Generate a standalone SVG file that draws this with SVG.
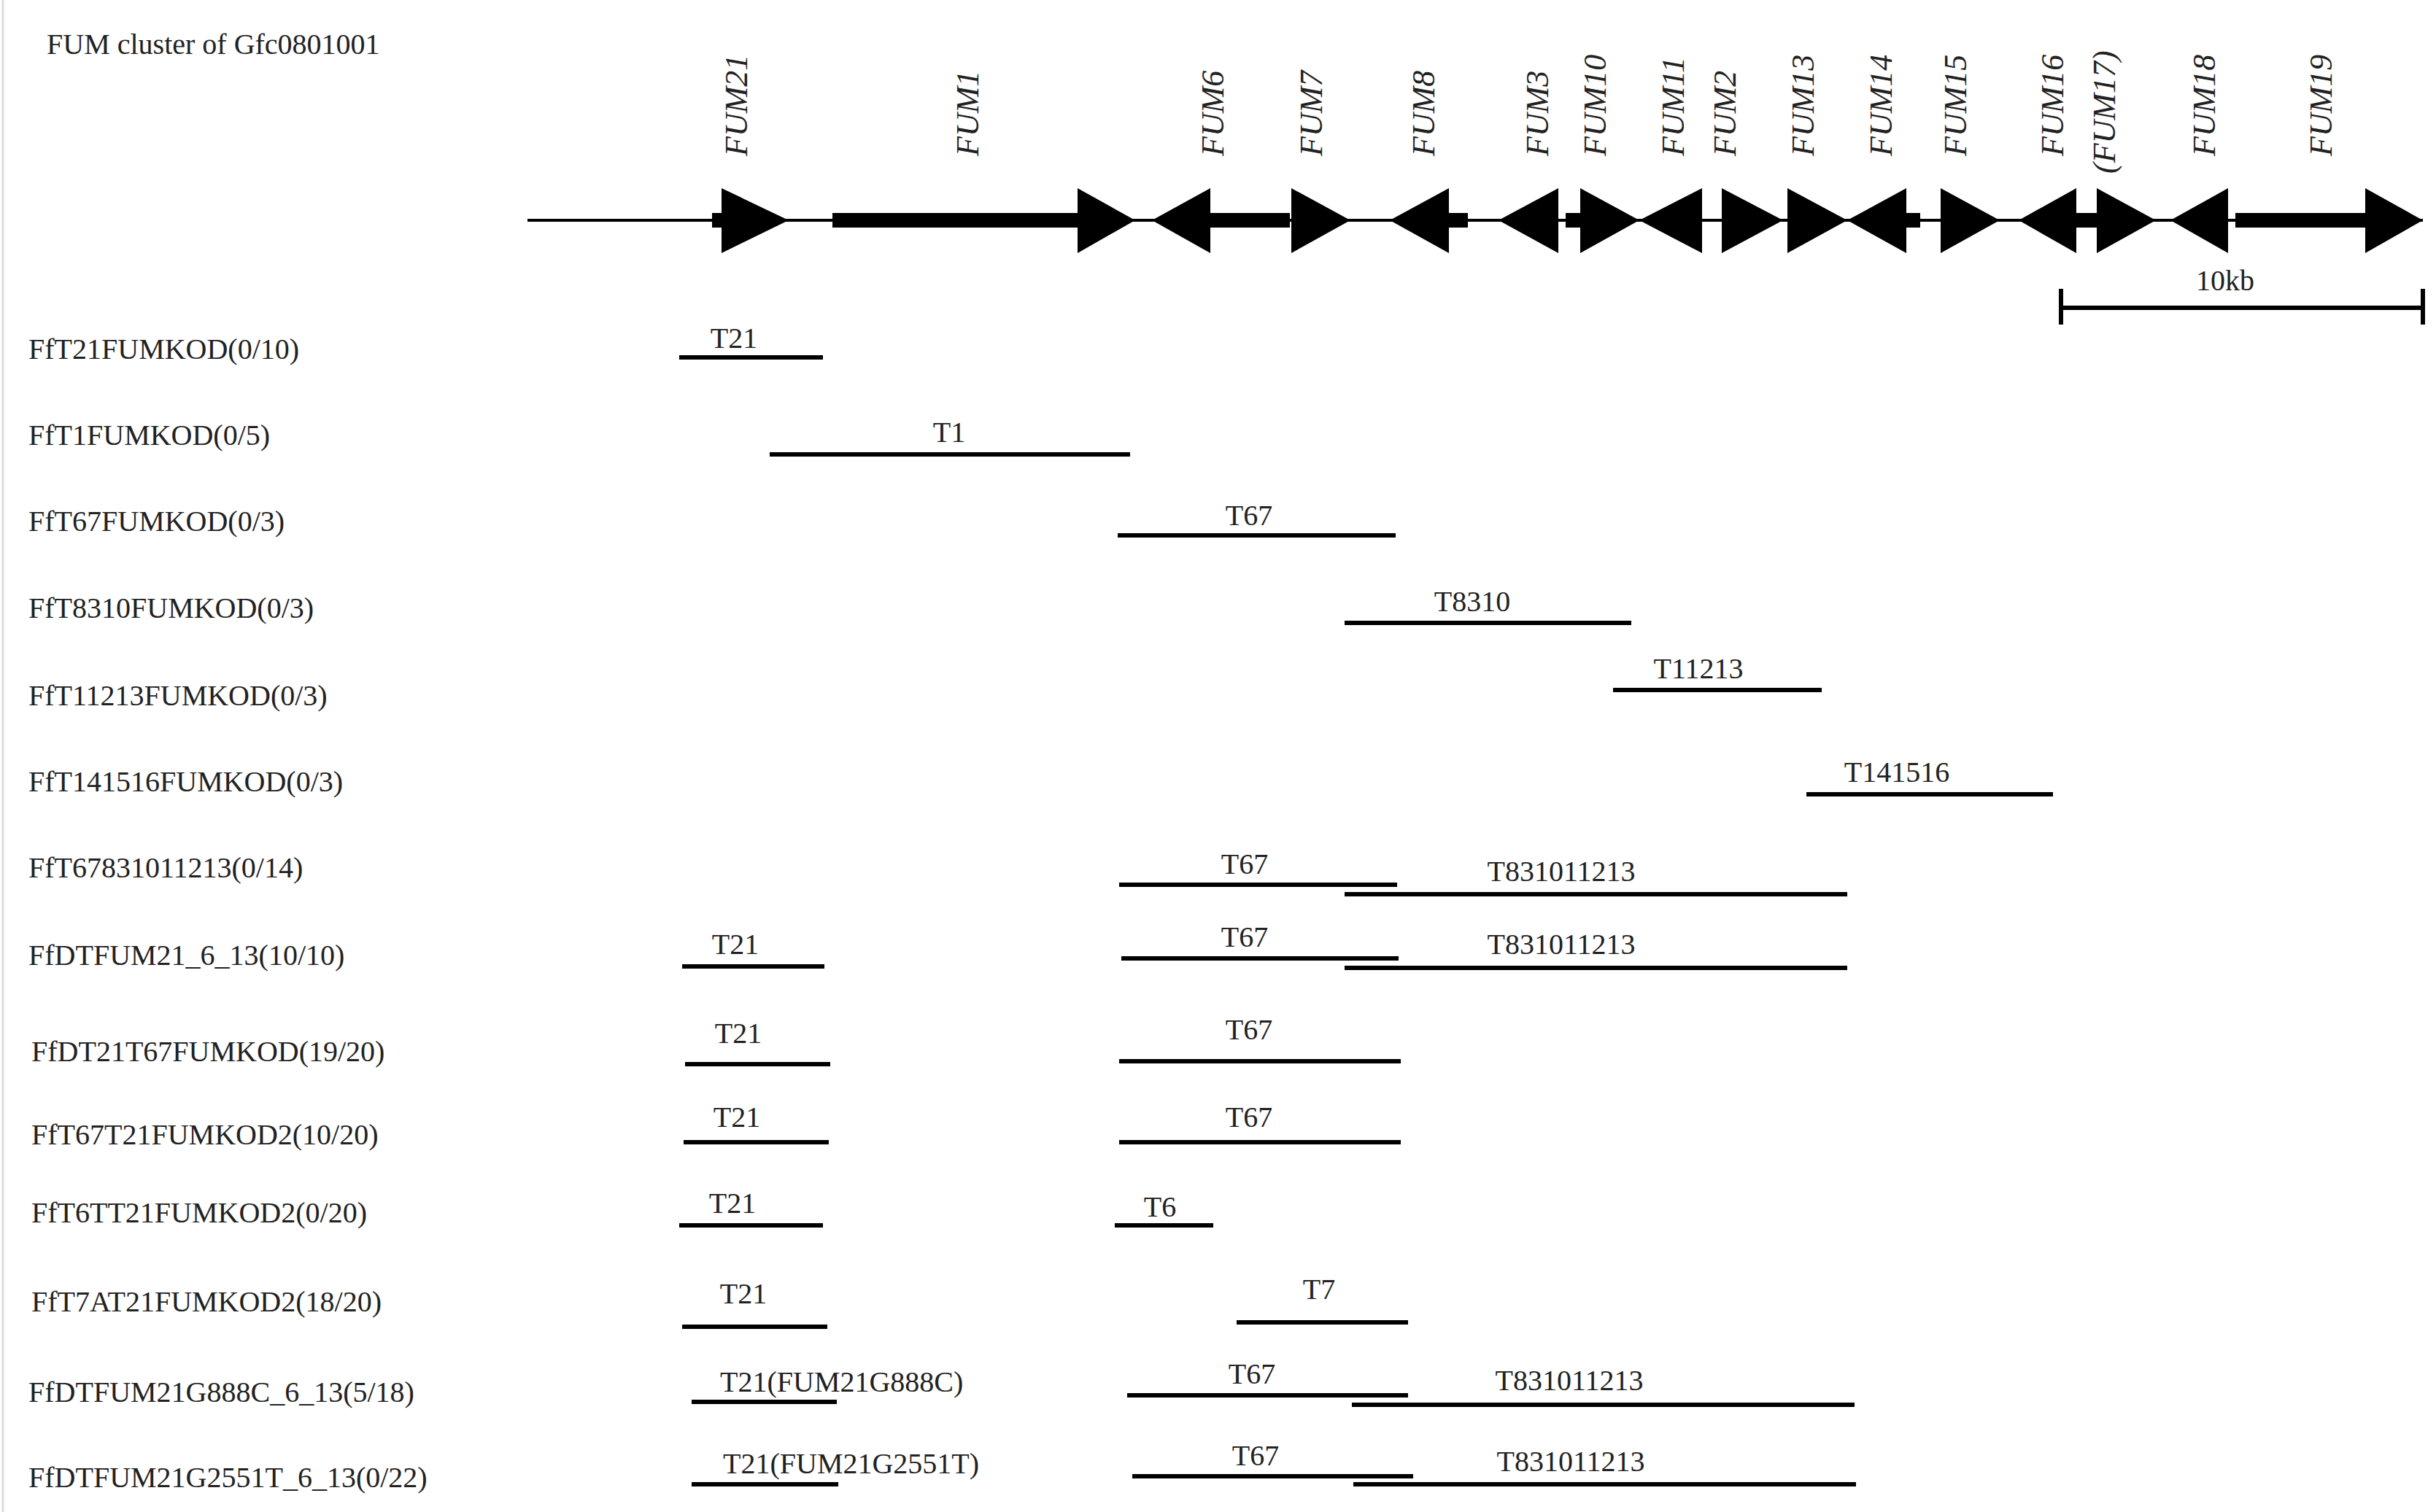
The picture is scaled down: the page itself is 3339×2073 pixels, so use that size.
<svg xmlns="http://www.w3.org/2000/svg" width="3339" height="2073" viewBox="0 0 3339 2073">
<style>
.g{font-family:"Liberation Serif",serif;font-style:italic;font-size:44px;fill:#222}
.l{font-family:"Liberation Serif",serif;font-size:40px;fill:#222}
.t{font-family:"Liberation Serif",serif;font-size:40px;fill:#222;text-anchor:middle}
.s{stroke:#000;stroke-width:6;fill:none}
</style>
<rect width="3339" height="2073" fill="#fff"/>
<line x1="4" y1="0" x2="4" y2="2073" stroke="#ddd" stroke-width="3"/>
<text class="l" x="64" y="74" font-size="38">FUM cluster of Gfc0801001</text>
<g id="genes" fill="#000">
<line x1="723" y1="302" x2="3321" y2="302" stroke="#000" stroke-width="4"/>
<rect x="976" y="292" width="30" height="20"/><polygon points="989,258 1081,302 989,347"/>
<rect x="1141" y="292" width="336" height="20"/><polygon points="1477,258 1556,302 1477,347"/>
<polygon points="1659,258 1579,302 1659,347"/><rect x="1659" y="292" width="109" height="20"/>
<polygon points="1770,258 1851,302 1770,347"/>
<polygon points="1986,258 1905,302 1986,347"/><rect x="1986" y="292" width="26" height="20"/>
<polygon points="2136,258 2054,302 2136,347"/>
<rect x="2146" y="292" width="20" height="20"/><polygon points="2166,258 2247,302 2166,347"/>
<polygon points="2333,258 2247,302 2333,347"/>
<polygon points="2360,258 2444,302 2360,347"/>
<polygon points="2450,258 2532,302 2450,347"/>
<polygon points="2613,258 2532,302 2613,347"/><rect x="2613" y="292" width="19" height="20"/>
<polygon points="2660,258 2741,302 2660,347"/>
<polygon points="2846,258 2767,302 2846,347"/><rect x="2846" y="292" width="28" height="20"/>
<polygon points="2874,258 2955,302 2874,347"/>
<polygon points="3054,258 2975,302 3054,347"/>
<rect x="3064" y="292" width="178" height="20"/><polygon points="3242,258 3321,302 3242,347"/>
</g>
<g id="gene-labels">
<text class="g" transform="translate(1024,214) rotate(-90)">FUM21</text>
<text class="g" transform="translate(1341,214) rotate(-90)">FUM1</text>
<text class="g" transform="translate(1677,214) rotate(-90)">FUM6</text>
<text class="g" transform="translate(1812,214) rotate(-90)">FUM7</text>
<text class="g" transform="translate(1966,214) rotate(-90)">FUM8</text>
<text class="g" transform="translate(2122,214) rotate(-90)">FUM3</text>
<text class="g" transform="translate(2201,214) rotate(-90)">FUM10</text>
<text class="g" transform="translate(2308,214) rotate(-90)">FUM11</text>
<text class="g" transform="translate(2379,214) rotate(-90)">FUM2</text>
<text class="g" transform="translate(2486,214) rotate(-90)">FUM13</text>
<text class="g" transform="translate(2593,214) rotate(-90)">FUM14</text>
<text class="g" transform="translate(2695,214) rotate(-90)">FUM15</text>
<text class="g" transform="translate(2828,214) rotate(-90)">FUM16</text>
<text class="g" transform="translate(2899,238) rotate(-90)">(FUM17)</text>
<text class="g" transform="translate(3036,214) rotate(-90)">FUM18</text>
<text class="g" transform="translate(3196,214) rotate(-90)">FUM19</text>
</g>
<g id="scalebar">
<line class="s" x1="2825" y1="422" x2="3321" y2="422"/>
<line class="s" x1="2825" y1="396" x2="2825" y2="445" stroke-width="4"/>
<line class="s" x1="3321" y1="396" x2="3321" y2="445" stroke-width="4"/>
<text class="t" x="3050" y="398">10kb</text>
</g>
<g id="row-labels">
<text class="l" x="39" y="492">FfT21FUMKOD(0/10)</text>
<text class="l" x="39" y="610">FfT1FUMKOD(0/5)</text>
<text class="l" x="39" y="728">FfT67FUMKOD(0/3)</text>
<text class="l" x="39" y="847">FfT8310FUMKOD(0/3)</text>
<text class="l" x="39" y="967">FfT11213FUMKOD(0/3)</text>
<text class="l" x="39" y="1085">FfT141516FUMKOD(0/3)</text>
<text class="l" x="39" y="1203">FfT67831011213(0/14)</text>
<text class="l" x="39" y="1323">FfDTFUM21_6_13(10/10)</text>
<text class="l" x="43" y="1455">FfDT21T67FUMKOD(19/20)</text>
<text class="l" x="43" y="1569">FfT67T21FUMKOD2(10/20)</text>
<text class="l" x="43" y="1676">FfT6TT21FUMKOD2(0/20)</text>
<text class="l" x="43" y="1798">FfT7AT21FUMKOD2(18/20)</text>
<text class="l" x="39" y="1922">FfDTFUM21G888C_6_13(5/18)</text>
<text class="l" x="39" y="2039">FfDTFUM21G2551T_6_13(0/22)</text>
</g>
<g id="connectors">
<line class="s" x1="931" y1="490" x2="1128" y2="490"/>
<line class="s" x1="1055" y1="623" x2="1549" y2="623"/>
<line class="s" x1="1532" y1="734" x2="1913" y2="734"/>
<line class="s" x1="1843" y1="854" x2="2236" y2="854"/>
<line class="s" x1="2211" y1="946" x2="2497" y2="946"/>
<line class="s" x1="2476" y1="1089" x2="2814" y2="1089"/>
<line class="s" x1="1534" y1="1213" x2="1915" y2="1213"/>
<line class="s" x1="1843" y1="1226" x2="2532" y2="1226"/>
<line class="s" x1="935" y1="1325" x2="1130" y2="1325"/>
<line class="s" x1="1537" y1="1314" x2="1917" y2="1314"/>
<line class="s" x1="1843" y1="1327" x2="2532" y2="1327"/>
<line class="s" x1="939" y1="1459" x2="1138" y2="1459"/>
<line class="s" x1="1534" y1="1455" x2="1920" y2="1455"/>
<line class="s" x1="937" y1="1566" x2="1136" y2="1566"/>
<line class="s" x1="1534" y1="1566" x2="1920" y2="1566"/>
<line class="s" x1="931" y1="1680" x2="1128" y2="1680"/>
<line class="s" x1="1528" y1="1680" x2="1663" y2="1680"/>
<line class="s" x1="935" y1="1819" x2="1134" y2="1819"/>
<line class="s" x1="1695" y1="1813" x2="1930" y2="1813"/>
<line class="s" x1="948" y1="1922" x2="1147" y2="1922"/>
<line class="s" x1="1545" y1="1913" x2="1930" y2="1913"/>
<line class="s" x1="1853" y1="1926" x2="2542" y2="1926"/>
<line class="s" x1="948" y1="2035" x2="1149" y2="2035"/>
<line class="s" x1="1552" y1="2024" x2="1937" y2="2024"/>
<line class="s" x1="1855" y1="2035" x2="2544" y2="2035"/>
</g>
<g id="segment-labels">
<text class="t" x="1006" y="477">T21</text>
<text class="t" x="1301" y="606">T1</text>
<text class="t" x="1712" y="720">T67</text>
<text class="t" x="2018" y="838">T8310</text>
<text class="t" x="2328" y="930">T11213</text>
<text class="t" x="2600" y="1072">T141516</text>
<text class="t" x="1706" y="1198">T67</text>
<text class="t" x="2140" y="1208">T831011213</text>
<text class="t" x="1008" y="1308">T21</text>
<text class="t" x="1706" y="1298">T67</text>
<text class="t" x="2140" y="1308">T831011213</text>
<text class="t" x="1012" y="1430">T21</text>
<text class="t" x="1712" y="1425">T67</text>
<text class="t" x="1010" y="1545">T21</text>
<text class="t" x="1712" y="1545">T67</text>
<text class="t" x="1004" y="1663">T21</text>
<text class="t" x="1590" y="1668">T6</text>
<text class="t" x="1019" y="1787">T21</text>
<text class="t" x="1808" y="1781">T7</text>
<text class="l" x="987" y="1908">T21(FUM21G888C)</text>
<text class="t" x="1716" y="1897">T67</text>
<text class="t" x="2151" y="1906">T831011213</text>
<text class="l" x="991" y="2020">T21(FUM21G2551T)</text>
<text class="t" x="1721" y="2009">T67</text>
<text class="t" x="2153" y="2017">T831011213</text>
</g>
</svg>
